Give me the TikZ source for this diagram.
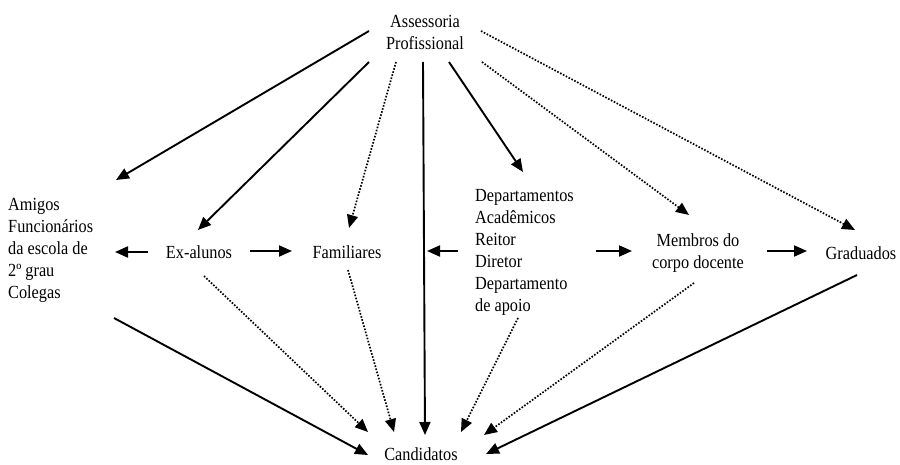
\documentclass[tikz,border=0pt]{standalone}
\usepackage{fontspec}
\setmainfont{Liberation Serif}[FakeStretch=0.88]
\usetikzlibrary{arrows.meta,calc}
\begin{document}
\begin{tikzpicture}[x=1pt,y=-1pt,
  txt/.style={inner sep=0pt,align=left,font=\fontsize{18.5}{22}\selectfont},
  seta/.style={line width=1.9pt,-{Triangle[length=13pt,width=11pt]}},
  pont/.style={line width=1.7pt,dash pattern=on 1.6pt off 1.6pt,-{Triangle[length=13pt,width=11pt]}}]
\useasboundingbox (0,0) rectangle (900,465);

% nos
\node[txt,align=center] (ass) at (425,32) {Assessoria\\Profissional};
\node[txt,anchor=west] (ami) at (8,250) {Amigos\\Funcionários\\da escola de\\2º grau\\Colegas};
\node[txt] (exa) at (199,252) {Ex-alunos};
\node[txt] (fam) at (347,252) {Familiares};
\node[txt,anchor=west] (dep) at (475,252) {Departamentos\\Acadêmicos\\Reitor\\Diretor\\Departamento\\de apoio};
\node[txt,align=center] (mem) at (698,253) {Membros do\\corpo docente};
\node[txt] (gra) at (861,253) {Graduados};
\node[txt] (can) at (421,454) {Candidatos};
\coordinate (tronco) at (427,251);

% da assessoria
\draw[seta] ($(ass)+(-56,-1)$) -- ($(ami.west)+(108,-70)$);
\draw[seta] ($(ass)+(-56,30)$) -- ($(exa)+(-1,-22)$);
\draw[pont] ($(ass)+(-29,30)$) -- ($(fam)+(2,-24)$);
\draw[seta] ($(ass)+(-2,30)$) -- ($(can)+(4,-19)$);
\draw[seta] ($(ass)+(24,30)$) -- ($(dep.west)+(48,-80)$);
\draw[pont] ($(ass)+(57,30)$) -- ($(mem)+(-9,-38)$);
\draw[pont] ($(ass)+(56,-1)$) -- ($(gra)+(-6,-23)$);

% na linha do meio
\draw[seta] ($(exa)+(-51,0)$) -- ($(ami.west)+(107,2)$);
\draw[seta] ($(exa)+(51,-1)$) -- ($(fam)+(-55,-1)$);
\draw[seta] ($(dep.west)+(-17,-1)$) -- (tronco);
\draw[seta] ($(dep.west)+(121,-1)$) -- ($(mem)+(-66,-2)$);
\draw[seta] ($(mem)+(69,-2)$) -- ($(gra)+(-54,-2)$);

% para os candidatos
\draw[seta] ($(ami.west)+(106,68)$) -- ($(can)+(-53,1)$);
\draw[pont] ($(exa)+(5,24)$) -- ($(can)+(-53,-22)$);
\draw[pont] ($(fam)+(1,18)$) -- ($(can)+(-27,-22)$);
\draw[pont] ($(dep.west)+(43,66)$) -- ($(can)+(40,-22)$);
\draw[pont] ($(mem)+(-4,30)$) -- ($(can)+(63,-19)$);
\draw[seta] ($(gra)+(-4,22)$) -- ($(can)+(65,0)$);
\end{tikzpicture}
\end{document}
